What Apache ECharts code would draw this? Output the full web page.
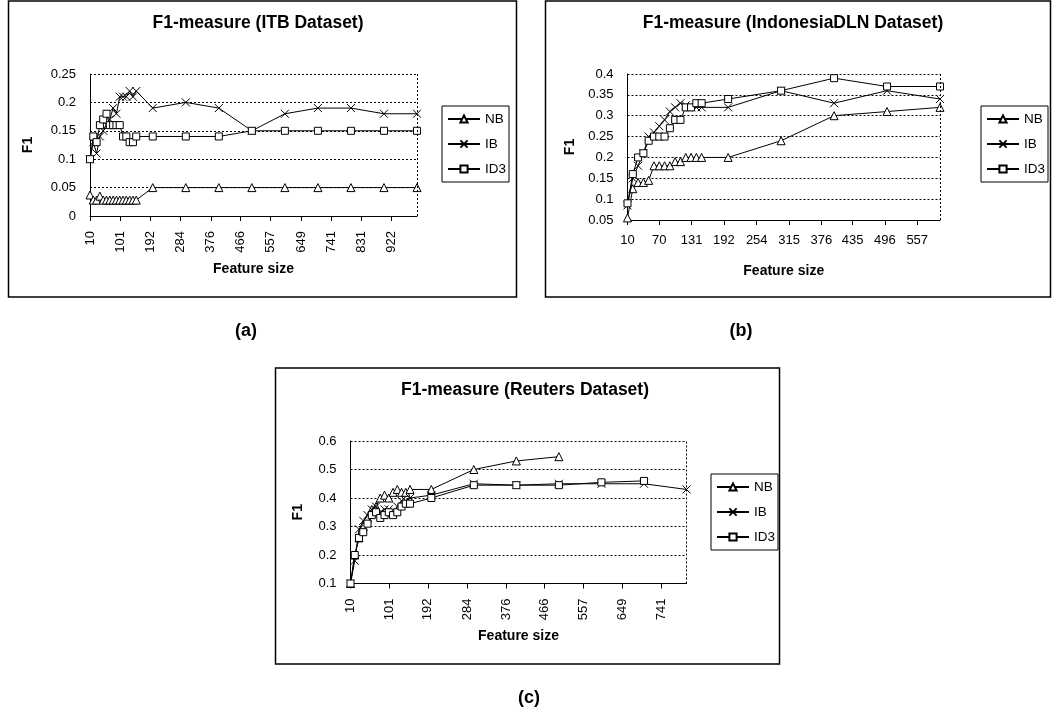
<!DOCTYPE html>
<html>
<head>
<meta charset="utf-8">
<script src="https://cdn.jsdelivr.net/npm/echarts@6/dist/echarts.min.js"></script>
<style>
html,body{margin:0;padding:0;background:#fff;}
#chart{width:1052px;height:719px;}
</style>
</head>
<body>
<div id="chart"></div>
<script>
// ---------------- data ----------------
const seriesNames = ['NB', 'IB', 'ID3'];

// (a) ITB dataset
const itbSizes = [10,20,30,40,50,60,70,80,90,100,110,120,130,140,150,200,300,400,500,600,700,800,900,1000];
const itbNB  = [0.037,0.028,0.028,0.035,0.028,0.028,0.028,0.028,0.028,0.028,0.028,0.028,0.028,0.028,0.028,0.05,0.05,0.05,0.05,0.05,0.05,0.05,0.05,0.05];
const itbIB  = [0.10,0.13,0.11,0.14,0.15,0.16,0.17,0.19,0.18,0.21,0.21,0.21,0.22,0.21,0.22,0.19,0.20,0.19,0.15,0.18,0.19,0.19,0.18,0.18];
const itbID3 = [0.10,0.14,0.13,0.16,0.17,0.18,0.16,0.16,0.16,0.16,0.14,0.14,0.13,0.13,0.14,0.14,0.14,0.14,0.15,0.15,0.15,0.15,0.15,0.15];
const itbXTicks = [10,101,192,284,376,466,557,649,741,831,922];

// (b) IndonesiaDLN dataset
const dlnSizes = [10,20,30,40,50,60,70,80,90,100,110,120,130,140,150,200,300,400,500,600];
const dlnNB  = [0.055,0.125,0.14,0.14,0.145,0.18,0.18,0.18,0.18,0.19,0.19,0.20,0.20,0.20,0.20,0.20,0.24,0.30,0.31,0.32];
const dlnIB  = [0.085,0.15,0.18,0.21,0.25,0.26,0.275,0.29,0.31,0.32,0.33,0.325,0.32,0.32,0.32,0.32,0.36,0.33,0.36,0.34];
const dlnID3 = [0.09,0.16,0.20,0.21,0.24,0.25,0.25,0.25,0.27,0.29,0.29,0.32,0.32,0.33,0.33,0.34,0.36,0.39,0.37,0.37];
const dlnXTicks = [10,70,131,192,254,315,376,435,496,557];

// (c) Reuters dataset
const reutersSizes = [10,20,30,40,50,60,70,80,90,100,110,120,130,140,150,200,300,400,500,600,700,800];
const reutersNB  = [0.10,0.20,0.26,0.30,0.33,0.36,0.37,0.40,0.41,0.40,0.42,0.43,0.42,0.42,0.43,0.43,0.50,0.53,0.545];
const reutersIB  = [0.10,0.18,0.29,0.32,0.34,0.36,0.37,0.35,0.36,0.36,0.35,0.37,0.39,0.39,0.40,0.41,0.45,0.445,0.45,0.45,0.45,0.43];
const reutersID3 = [0.10,0.20,0.26,0.28,0.31,0.34,0.35,0.33,0.34,0.35,0.34,0.35,0.37,0.38,0.38,0.40,0.445,0.445,0.445,0.455,0.46];
const reutersXTicks = [10,101,192,284,376,466,557,649,741];

const panelTitles = ['F1-measure (ITB Dataset)', 'F1-measure (IndonesiaDLN Dataset)', 'F1-measure (Reuters Dataset)'];
const panelLetters = ['(a)', '(b)', '(c)'];
const xAxisName = 'Feature size';
const yAxisName = 'F1';

// ---------------- styling / layout ----------------
const FONT = '"Liberation Sans", Arial, sans-serif';
const symbols = ['triangle', 'path://M0,0L10,10M10,0L0,10', 'rect'];
const symbolSizes = [8, 8, 7];

const panels = [
  { sizes: itbSizes, values: [itbNB, itbIB, itbID3], ticks: itbXTicks,
    xMin: 10, xMax: 1000, yMin: 0, yMax: 0.25, yInt: 0.05, rotate: 90,
    grid: { left: 90, top: 74, width: 327, height: 142 },
    titleX: 258, titleY: 14, letterX: 246, letterY: 322,
    legend: { left: 442, top: 106 }, yNameGap: 55, xNameGap: 46 },
  { sizes: dlnSizes, values: [dlnNB, dlnIB, dlnID3], ticks: dlnXTicks,
    xMin: 10, xMax: 600, yMin: 0.05, yMax: 0.4, yInt: 0.05, rotate: 0,
    grid: { left: 627.5, top: 74, width: 312.5, height: 146 },
    titleX: 793, titleY: 14, letterX: 741, letterY: 322,
    legend: { left: 981, top: 106 }, yNameGap: 50, xNameGap: 44 },
  { sizes: reutersSizes, values: [reutersNB, reutersIB, reutersID3], ticks: reutersXTicks,
    xMin: 10, xMax: 800, yMin: 0.1, yMax: 0.6, yInt: 0.1, rotate: 90,
    grid: { left: 350.5, top: 441, width: 336, height: 142.5 },
    titleX: 525, titleY: 381, letterX: 529, letterY: 689,
    legend: { left: 711, top: 474 }, yNameGap: 45, xNameGap: 46 }
];

const txt = { color: '#000', fontFamily: FONT };

const option = {
  animation: false,
  backgroundColor: '#fff',
  title: [], grid: [], xAxis: [], yAxis: [], legend: [], series: [],
  graphic: [
    { type: 'rect', shape: { x: 8.5, y: 1, width: 508, height: 296 }, style: { fill: 'none', stroke: '#000', lineWidth: 1.5 } },
    { type: 'rect', shape: { x: 545.5, y: 1, width: 505, height: 296 }, style: { fill: 'none', stroke: '#000', lineWidth: 1.5 } },
    { type: 'rect', shape: { x: 275.5, y: 368, width: 504, height: 296 }, style: { fill: 'none', stroke: '#000', lineWidth: 1.5 } }
  ]
};

panels.forEach((p, i) => {
  option.title.push({
    text: panelTitles[i], left: p.titleX, top: p.titleY, textAlign: 'center', padding: 0,
    textStyle: Object.assign({ fontSize: 17.5, fontWeight: 'bold' }, txt)
  });
  option.title.push({
    text: panelLetters[i], left: p.letterX, top: p.letterY, textAlign: 'center', padding: 0,
    textStyle: Object.assign({ fontSize: 18, fontWeight: 'bold' }, txt)
  });
  option.grid.push(Object.assign({ containLabel: false }, p.grid));
  option.xAxis.push({
    type: 'value', gridIndex: i, min: p.xMin, max: p.xMax,
    name: xAxisName, nameLocation: 'middle', nameGap: p.xNameGap,
    nameTextStyle: Object.assign({ fontSize: 14, fontWeight: 'bold' }, txt),
    axisLine: { show: true, onZero: false, lineStyle: { color: '#000', width: 1 } },
    axisTick: { show: true, customValues: p.ticks, length: 5, lineStyle: { color: '#000', width: 1 } },
    axisLabel: Object.assign({ customValues: p.ticks, rotate: p.rotate, margin: p.rotate ? 15 : 14, fontSize: 13 }, txt),
    splitLine: { show: false }
  });
  option.yAxis.push({
    type: 'value', gridIndex: i, min: p.yMin, max: p.yMax, interval: p.yInt,
    name: yAxisName, nameLocation: 'middle', nameGap: p.yNameGap, nameRotate: 90,
    nameTextStyle: Object.assign({ fontSize: 14, fontWeight: 'bold' }, txt),
    axisLine: { show: true, onZero: false, lineStyle: { color: '#000', width: 1 } },
    axisTick: { show: false },
    axisLabel: Object.assign({ margin: 14, fontSize: 13 }, txt),
    splitLine: { show: true, lineStyle: { color: '#000', width: 1, type: [2, 2] } }
  });
  option.legend.push({
    orient: 'vertical', left: p.legend.left, top: p.legend.top,
    padding: [6, 3, 6, 5], itemWidth: 32, itemHeight: 9, itemGap: 11,
    borderColor: '#000', borderWidth: 1, backgroundColor: '#fff',
    selectedMode: false,
    data: seriesNames.map((n) => ({ name: n + '\u200b'.repeat(i) })),
    formatter: (name) => name.replace(/\u200b/g, ''),
    textStyle: Object.assign({ fontSize: 13.5 }, txt)
  });
  seriesNames.forEach((n, k) => {
    const vals = p.values[k];
    const s = {
      type: 'line', name: n + '\u200b'.repeat(i), xAxisIndex: i, yAxisIndex: i,
      data: vals.map((v, j) => [p.sizes[j], v]),
      symbol: symbols[k], symbolSize: symbolSizes[k], showAllSymbol: true,
      lineStyle: { color: '#000', width: 1 },
      itemStyle: { color: '#fff', borderColor: '#000', borderWidth: 1 },
      emphasis: { disabled: true }, silent: true, z: 2 + k
    };
    if (k === 0) {
      s.markLine = {
        silent: true, symbol: ['none', 'none'], label: { show: false },
        lineStyle: { color: '#000', width: 1, type: [2, 2] },
        data: [{ xAxis: p.xMax }]
      };
    }
    option.series.push(s);
  });
});

const chart = echarts.init(document.getElementById('chart'), null, { renderer: 'canvas' });
chart.setOption(option);
</script>
</body>
</html>
